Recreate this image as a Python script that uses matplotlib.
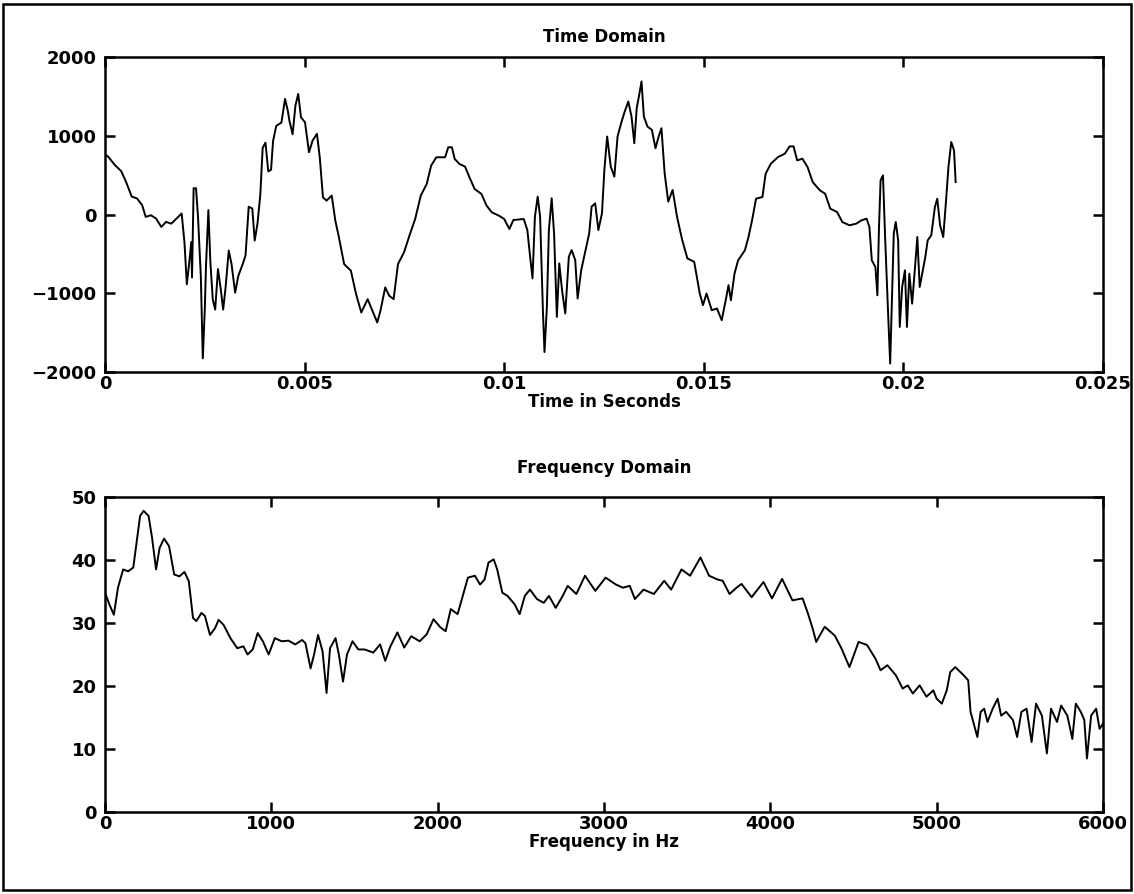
import matplotlib
matplotlib.use("Agg")
import matplotlib.pyplot as plt
import numpy as np
from matplotlib.patches import Rectangle

# time domain trace (time in ms, amplitude)
t_ms = [0.0, 0.07, 0.24, 0.41, 0.54, 0.67, 0.80, 0.93, 1.02, 1.15, 1.28, 1.41, 1.53, 1.66, 1.79, 1.92,
        1.99, 2.05, 2.12, 2.16, 2.18, 2.22, 2.28, 2.33, 2.40, 2.45, 2.50, 2.53, 2.59, 2.64, 2.70,
        2.76, 2.83, 2.90, 2.96, 3.02, 3.10, 3.17, 3.26, 3.34, 3.45, 3.52, 3.60, 3.69, 3.75, 3.82,
        3.89, 3.95, 4.02, 4.09, 4.16, 4.21, 4.29, 4.42, 4.51, 4.58, 4.62, 4.70, 4.77, 4.84, 4.91,
        5.01, 5.11, 5.20, 5.31, 5.38, 5.46, 5.55, 5.68, 5.77, 5.86, 5.99, 6.16, 6.29, 6.42, 6.58,
        6.70, 6.82, 6.90, 7.02, 7.12, 7.23, 7.34, 7.49, 7.64, 7.77, 7.91, 8.06, 8.17, 8.30, 8.52,
        8.60, 8.69, 8.76, 8.88, 9.02, 9.13, 9.26, 9.43, 9.56, 9.69, 9.87, 10.00, 10.13, 10.23,
        10.49, 10.58, 10.65, 10.71, 10.77, 10.84, 10.90, 10.97, 11.01, 11.07, 11.12, 11.19, 11.25,
        11.32, 11.38, 11.45, 11.53, 11.62, 11.69, 11.78, 11.84, 11.93, 12.02, 12.13, 12.19, 12.28,
        12.36, 12.45, 12.51, 12.58, 12.67, 12.76, 12.84, 12.93, 13.02, 13.11, 13.19, 13.26, 13.32,
        13.39, 13.44, 13.50, 13.59, 13.70, 13.79, 13.87, 13.94, 14.02, 14.11, 14.22, 14.33, 14.46,
        14.59, 14.76, 14.90, 14.98, 15.07, 15.20, 15.33, 15.45, 15.55, 15.62, 15.68, 15.77, 15.86,
        16.03, 16.12, 16.21, 16.31, 16.47, 16.55, 16.68, 16.86, 17.03, 17.15, 17.25, 17.34, 17.47,
        17.60, 17.73, 17.91, 18.04, 18.17, 18.34, 18.47, 18.65, 18.82, 18.95, 19.08, 19.15, 19.21,
        19.30, 19.35, 19.39, 19.43, 19.49, 19.54, 19.61, 19.67, 19.71, 19.76, 19.81, 19.87, 19.91,
        19.97, 20.04, 20.09, 20.15, 20.22, 20.28, 20.35, 20.41, 20.48, 20.55, 20.61, 20.70, 20.79,
        20.85, 20.92, 21.00, 21.07, 21.13, 21.20, 21.27, 21.31]
amp = [760, 740, 633, 548, 398, 227, 205, 120, -30, -9, -51, -158, -94, -116, -51, 13,
       -351, -886, -565, -351, -800, 334, 334, -30, -779, -1827, -1207, -651, 56, -608, -1079,
       -1207, -693, -950, -1207, -929, -458, -629, -993, -779, -629, -522, 98, 77, -330, -116,
       248, 847, 912, 548, 569, 933, 1126, 1168, 1468, 1318, 1190, 1019, 1382, 1532, 1233,
       1172, 791, 939, 1024, 727, 218, 176, 240, -78, -290, -629, -714, -1011, -1244, -1075,
       -1223, -1371, -1223, -926, -1032, -1075, -629, -481, -248, -57, 240, 388, 621, 727, 727,
       854, 854, 706, 642, 608, 473, 324, 261, 112, 28, -15, -57, -184, -70,
       -57, -197, -536, -812, -28, 227, -28, -1215, -1747, -1172, -197, 206, -240,
       -1300, -621, -962, -1257, -536, -452, -579, -1066, -706, -494, -240, 100, 142,
       -197, 15, 566, 990, 608, 481, 990, 1160, 1308, 1435, 1244, 905, 1350,
       1541, 1690, 1244, 1117, 1075, 842, 990, 1096, 524, 163, 312, -28, -324,
       -558, -600, -1003, -1151, -1003, -1215, -1194, -1342, -1088, -897, -1089, -751, -582,
       -455, -286, -74, 201, 222, 518, 645, 730, 772, 865, 865, 687, 709,
       603, 412, 307, 264, 74, 32, -95, -137, -116, -74, -53, -159, -582,
       -666, -1026, -159, 434, 497, -243, -1153, -1893, -1174, -243, -95, -328, -1428,
       -920, -709, -1428, -751, -1132, -751, -286, -920, -730, -540, -328, -264, 95,
       201, -137, -286, 180, 603, 920, 814, 412]

# frequency domain trace (Hz, magnitude)
freq = [0, 27, 53, 78, 109, 139, 170, 191, 211, 232, 262, 283, 307, 328, 355, 385, 416, 447, 478,
        504, 529, 549, 580, 601, 631, 662, 683, 713, 754, 795, 832, 857, 888, 918, 949, 984, 1021,
        1062, 1103, 1144, 1185, 1205, 1236, 1257, 1281, 1308, 1332, 1353, 1386, 1406, 1431, 1455,
        1488, 1523, 1561, 1613, 1654, 1685, 1716, 1758, 1799, 1841, 1892, 1934, 1975, 2017, 2048,
        2079, 2120, 2151, 2182, 2224, 2255, 2282, 2306, 2337, 2358, 2389, 2420, 2462, 2493, 2524,
        2555, 2597, 2638, 2669, 2710, 2752, 2782, 2834, 2886, 2948, 3010, 3072, 3114, 3155, 3186,
        3238, 3300, 3362, 3404, 3466, 3518, 3580, 3632, 3683, 3714, 3755, 3797, 3827, 3888, 3959,
        4010, 4071, 4133, 4194, 4224, 4255, 4276, 4327, 4388, 4429, 4476, 4531, 4582, 4633, 4663,
        4704, 4755, 4796, 4827, 4857, 4898, 4939, 4980, 5000, 5031, 5061, 5082, 5112, 5163, 5190,
        5204, 5245, 5265, 5286, 5306, 5337, 5367, 5388, 5418, 5459, 5484, 5510, 5541, 5571, 5598,
        5633, 5663, 5688, 5724, 5749, 5786, 5816, 5837, 5867, 5888, 5904, 5929, 5959, 5980, 6000]
mag = [34.8, 32.9, 31.3, 35.6, 38.5, 38.2, 38.8, 43.0, 47.0, 47.8, 47.0, 43.5, 38.5, 41.9, 43.4,
       42.2, 37.7, 37.4, 38.1, 36.6, 30.8, 30.3, 31.6, 31.1, 28.1, 29.2, 30.5, 29.7, 27.6, 26.0,
       26.3, 25.0, 25.8, 28.4, 27.1, 25.0, 27.6, 27.1, 27.2, 26.6, 27.3, 26.8, 22.8, 25.0, 28.1,
       25.5, 18.9, 26.0, 27.6, 25.0, 20.7, 25.0, 27.1, 25.8, 25.8, 25.3, 26.6, 24.0, 26.3, 28.5,
       26.1, 27.9, 27.1, 28.2, 30.6, 29.3, 28.7, 32.2, 31.4, 34.3, 37.2, 37.5, 36.1, 36.9, 39.6,
       40.1, 38.5, 34.8, 34.3, 33.0, 31.4, 34.3, 35.3, 33.8, 33.2, 34.3, 32.4, 34.3, 35.9, 34.6,
       37.5, 35.1, 37.2, 36.1, 35.6, 35.9, 33.8, 35.3, 34.6, 36.7, 35.3, 38.5, 37.5, 40.4, 37.5,
       36.9, 36.7, 34.6, 35.6, 36.2, 34.1, 36.5, 33.9, 37.0, 33.6, 33.9, 31.7, 29.1, 27.0, 29.4,
       28.0, 25.9, 23.0, 27.0, 26.5, 24.3, 22.5, 23.3, 21.7, 19.6, 20.1, 18.8, 20.1, 18.3, 19.3,
       18.0, 17.2, 19.3, 22.2, 23.0, 21.7, 20.9, 15.9, 11.9, 15.9, 16.4, 14.3, 16.4, 18.0, 15.3,
       15.9, 14.6, 11.9, 15.9, 16.4, 11.1, 17.2, 15.3, 9.3, 16.4, 14.3, 16.9, 15.3, 11.6, 17.2,
       15.9, 14.6, 8.5, 15.3, 16.4, 13.2, 14.0]

tick_font = {'family': 'DejaVu Sans', 'weight': 'bold', 'size': 13}
text_font = {'family': 'DejaVu Sans', 'weight': 'bold', 'size': 12}

fig = plt.figure(figsize=(11.34, 8.94), dpi=100)

ax1 = fig.add_axes([0.0926, 0.5839, 0.880, 0.3523])
ax2 = fig.add_axes([0.0926, 0.0917, 0.880, 0.3524])

ax1.plot(np.array(t_ms) / 1000.0, amp, color='black', lw=1.4)
ax1.set_xlim(0, 0.025)
ax1.set_ylim(-2000, 2000)
ax1.set_xticks([0, 0.005, 0.01, 0.015, 0.02, 0.025])
ax1.set_xticklabels(['0', '0.005', '0.01', '0.015', '0.02', '0.025'])
ax1.set_yticks([-2000, -1000, 0, 1000, 2000])
ax1.set_title('Time Domain', fontdict=text_font, pad=11)
ax1.set_xlabel('Time in Seconds', fontdict=text_font, labelpad=0)

ax2.plot(freq, mag, color='black', lw=1.4)
ax2.set_xlim(0, 6000)
ax2.set_ylim(0, 50)
ax2.set_xticks([0, 1000, 2000, 3000, 4000, 5000, 6000])
ax2.set_yticks([0, 10, 20, 30, 40, 50])
ax2.set_title('Frequency Domain', fontdict=text_font, pad=17)
ax2.set_xlabel('Frequency in Hz', fontdict=text_font, labelpad=0)

for ax in (ax1, ax2):
    for s in ax.spines.values():
        s.set_linewidth(1.8)
    ax.tick_params(direction='in', length=7, width=1.8, top=True, right=True)
    ax.tick_params(axis='x', pad=2)
    ax.tick_params(axis='y', pad=6)
    for lab in ax.get_xticklabels() + ax.get_yticklabels():
        lab.set_fontfamily(tick_font['family'])
        lab.set_fontweight(tick_font['weight'])
        lab.set_fontsize(tick_font['size'])

# frame round the whole figure
fig.patches.append(Rectangle((0.003, 0.004), 0.994, 0.992, transform=fig.transFigure,
                             fill=False, edgecolor='black', lw=1.8))

fig.savefig('out.png', dpi=100)
